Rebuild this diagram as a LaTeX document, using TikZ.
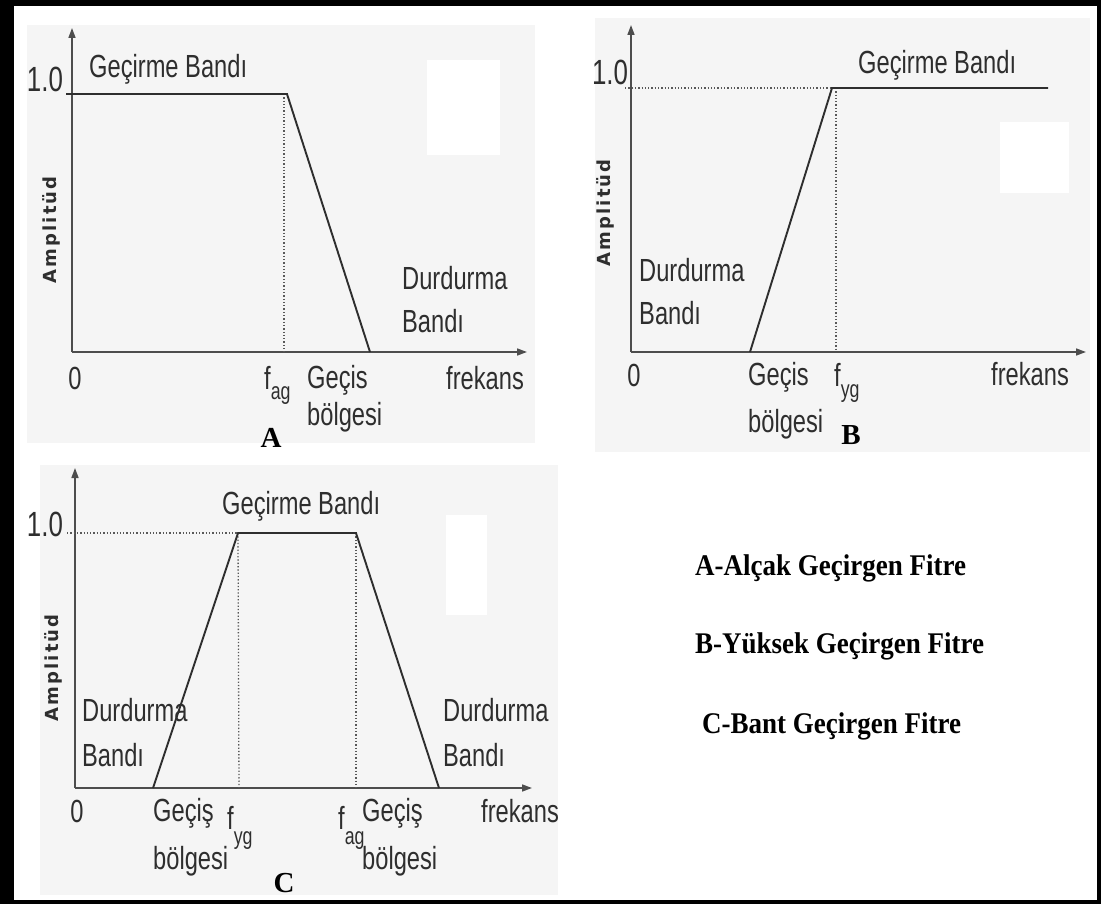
\documentclass[tikz,border=0pt]{standalone}
\usepackage{fontspec}
\setmainfont{Liberation Serif}
\newfontfamily\plotfont{Liberation Sans}[FakeStretch=0.74]
\newfontfamily\ampfont{DejaVu Sans}[LetterSpace=12]
\newfontfamily\legendfont{Liberation Serif}[FakeStretch=0.9]
\usetikzlibrary{arrows.meta,positioning}
\definecolor{panelgray}{HTML}{F5F5F5}
\definecolor{inkgray}{HTML}{2E2E2E}
\newcommand{\fsub}[2]{f\raisebox{-#2}{\fontsize{24}{24}\selectfont #1}}

\begin{document}
\begin{tikzpicture}[
    x=1pt, y=-1pt,
    panel/.style={fill=panelgray, draw=none},
    patch/.style={fill=white, draw=none},
    axis/.style={draw=inkgray!85, line width=1.6pt, -{Triangle[length=10pt,width=7pt]}},
    curve/.style={draw=inkgray, line width=1.9pt},
    guide/.style={draw=inkgray!80, line width=1.3pt, dotted},
    lbl/.style={inner sep=0pt, text=inkgray, font=\plotfont\fontsize{32}{43}\selectfont},
    multilbl/.style={lbl, align=left, anchor=north west},
    onelbl/.style={lbl, font=\plotfont\fontsize{35}{40}\selectfont},
    amp/.style={inner sep=0pt, text=inkgray, rotate=90, font=\ampfont\bfseries\fontsize{18}{20}\selectfont},
    tag/.style={inner sep=0pt, anchor=base, font=\bfseries\fontsize{29}{32}\selectfont},
    legend/.style={inner sep=0pt, anchor=base west, font=\legendfont\bfseries\fontsize{30}{34}\selectfont}
]
\useasboundingbox (0,0) rectangle (1101,904);
\fill[black] (0,0) rectangle (1101,904);
\fill[white] (14,6) rectangle (1097,900);

\path[panel] (27,25) rectangle (535,443);
\path[panel] (595,18) rectangle (1090,452);
\path[panel] (40,465) rectangle (558,895);
\path[patch] (427,60) rectangle (500,155);
\path[patch] (1000,122) rectangle (1069,193);
\path[patch] (446,515) rectangle (487,615);

% A
\coordinate (aO) at (72,352);
\coordinate (aTop) at (72,28);
\coordinate (aEnd) at (527,352);
\coordinate (aOne) at (66,94);
\coordinate (aKnee) at (287,94);
\coordinate (aFoot) at (370,352);
\coordinate (aCutTop) at (284,94);
\coordinate (aCut) at (284,352);
\draw[axis] (aO) -- (aTop);
\draw[axis] (aO) -- (aEnd);
\draw[guide] (aCutTop) -- (aCut);
\draw[curve] (aOne) -- (aKnee) -- (aFoot);
\node[onelbl, anchor=base] (aOneLbl) at (45,92) {1.0};
\node[lbl, anchor=base west] (aPass) at (89,78) {Geçirme Bandı};
\node[amp] (aAmp) at (51,230) {Amplitüd};
\node[multilbl] (aStop) at (402,266) {Durdurma\\Bandı};
\node[lbl, anchor=base] (aZero) at (75,389) {0};
\node[lbl, anchor=base west] (aFreqCut) at (264,389) {\fsub{ag}{10pt}};
\node[multilbl] (aTrans) at (307,365) {Geçis\\[-6pt]bölgesi};
\node[lbl, anchor=base west] (aFreq) at (446,389) {frekans};
\node[tag] (aTag) at (271,447) {A};

% B
\coordinate (bO) at (631,352);
\coordinate (bTop) at (631,25);
\coordinate (bEnd) at (1086,352);
\coordinate (bOne) at (625,88);
\coordinate (bKnee) at (832,88);
\coordinate (bFar) at (1048,88);
\coordinate (bFoot) at (750,352);
\coordinate (bCutTop) at (836,88);
\coordinate (bCut) at (836,352);
\draw[axis] (bO) -- (bTop);
\draw[axis] (bO) -- (bEnd);
\draw[guide] (bOne) -- (bKnee);
\draw[guide] (bCutTop) -- (bCut);
\draw[curve] (bFoot) -- (bKnee) -- (bFar);
\node[onelbl, anchor=base] (bOneLbl) at (610,85) {1.0};
\node[lbl, anchor=base west] (bPass) at (858,74) {Geçirme Bandı};
\node[amp] (bAmp) at (605,213) {Amplitüd};
\node[multilbl] (bStop) at (639,258) {Durdurma\\Bandı};
\node[lbl, anchor=base] (bZero) at (634,386) {0};
\node[multilbl] (bTrans) at (748,362) {Geçis\\[4pt]bölgesi};
\node[lbl, anchor=base west] (bFreqCut) at (834,386) {\fsub{yg}{11pt}};
\node[lbl, anchor=base west] (bFreq) at (991,385) {frekans};
\node[tag] (bTag) at (851,444) {B};

% C
\coordinate (cO) at (75,788);
\coordinate (cTop) at (75,468);
\coordinate (cEnd) at (532,788);
\coordinate (cOne) at (67,533);
\coordinate (cKneeL) at (238,533);
\coordinate (cKneeR) at (356,533);
\coordinate (cFootL) at (153,788);
\coordinate (cFootR) at (439,788);
\coordinate (cCutL) at (239,788);
\coordinate (cCutR) at (356,788);
\draw[axis] (cO) -- (cTop);
\draw[axis] (cO) -- (cEnd);
\draw[guide] (cOne) -- (cKneeL);
\draw[guide] (cKneeL) -- (cCutL);
\draw[guide] (cKneeR) -- (cCutR);
\node[onelbl, anchor=base] (cOneLbl) at (45,536) {1.0};
\node[lbl, anchor=base west] (cPass) at (222,514) {Geçirme Bandı};
\node[amp] (cAmp) at (53,668) {Amplitüd};
\node[multilbl] (cStopL) at (82,698) {Durdurma\\[2pt]Bandı};
\node[multilbl] (cStopR) at (443,698) {Durdurma\\[2pt]Bandı};
\draw[curve] (cFootL) -- (cKneeL) -- (cKneeR) -- (cFootR);
\node[lbl, anchor=base] (cZero) at (77,822) {0};
\node[multilbl] (cTransL) at (153,798) {Geçiş\\[5pt]bölgesi};
\node[lbl, anchor=base west] (cFreqLow) at (227,829) {\fsub{yg}{15pt}};
\node[lbl, anchor=base west] (cFreqHigh) at (338,829) {\fsub{ag}{15pt}};
\node[multilbl] (cTransR) at (362,798) {Geçiş\\[5pt]bölgesi};
\node[lbl, anchor=base west] (cFreq) at (481,822) {frekans};
\node[tag] (cTag) at (284,892) {C};

% legend
\node[legend] (legA) at (695,575) {A-Alçak Geçirgen Fitre};
\node[legend] (legB) at (695,653) {B-Yüksek Geçirgen Fitre};
\node[legend] (legC) at (702,733) {C-Bant Geçirgen Fitre};
\end{tikzpicture}
\end{document}
